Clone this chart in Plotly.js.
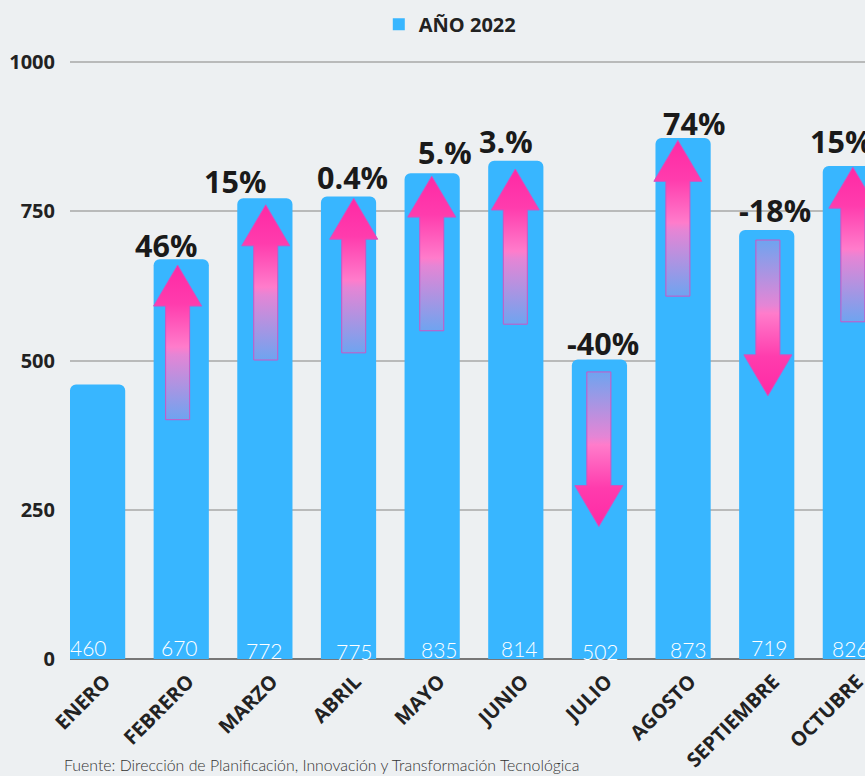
<!DOCTYPE html>
<html><head><meta charset="utf-8">
<script src="https://cdn.plot.ly/plotly-3.0.1.min.js"></script>
<style>html,body{margin:0;padding:0;background:#edf0f2;overflow:hidden}</style>
</head><body><div id="chart" style="width:865px;height:776px"></div>
<script>
const months = ["ENERO","FEBRERO","MARZO","ABRIL","MAYO","JUNIO","JULIO","AGOSTO","SEPTIEMBRE","OCTUBRE"];
const values = [460,670,772,775,814,835,502,873,719,826];
const valueLabels = ["460","670","772","775","835","814","502","873","719","826"];
const changeLabels = ["","46%","15%","0.4%","5.%","3.%","-40%","74%","-18%","15%"];
const arrowTail = [null,401,501,513,550,561,481,608,702,565];
const arrowTip  = [null,660,761,772,809,821,222,869,441,824];

const arrowCenter = [null,0.957,2.01,3.062,3.995,4.994,5.993,6.938,8.014,9.03];
const labelNudge = [[-9,0],[-2,0],[0,-3],[6,-4],[7,-2],[4,-1],[1,-4],[5,-2],[3,0],[0,-1]];
const changeNudge = [[0,0],[-15,0],[-30,0],[4,0],[13,0],[-10,0],[4,0],[11,0],[8,0],[-9,0]];
const changeGap = [0,-2,1,3,5,4,0,-1,4,9];

const HEAD = 0.574, SHAFT = 0.287, HEADLEN = 68.6;
const down = [[0,'#ff29a4'],[0.25,'#ff3cad'],[0.53,'#ff7ccb'],[0.58,'#e585d5'],[1,'#6ea4f0']];
const up = [[0,'#6ea4f0'],[0.42,'#e585d5'],[0.47,'#ff7ccb'],[0.75,'#ff3cad'],[1,'#ff29a4']];

const traces = [{
  type:'bar', x:months.map((_,i)=>i), y:values, width:0.66,
  marker:{color:'#38b6ff', cornerradius:6}, hoverinfo:'skip', showlegend:false
},{
  type:'bar', x:[0], y:[0], name:'AÑO 2022', width:0.66,
  marker:{color:'#38b6ff'}, hoverinfo:'skip', showlegend:true
}];
months.forEach((m,i)=>{
  if(arrowTail[i]===null) return;
  const c=arrowCenter[i], t=arrowTail[i], p=arrowTip[i], dir=p>t?1:-1, b=p-dir*HEADLEN;
  traces.push({
    type:'scatter', mode:'lines', showlegend:false, hoverinfo:'skip',
    x:[c-SHAFT/2,c-SHAFT/2,c-HEAD/2,c,c+HEAD/2,c+SHAFT/2,c+SHAFT/2,c-SHAFT/2],
    y:[t,b,b,p,b,b,t,t],
    fill:'toself', line:{color:'#cc55c4',width:1},
    fillgradient:{type:'vertical', colorscale: dir>0?up:down}
  });
});

const ann = [];
months.forEach((m,i)=>{
  ann.push({x:i,y:0,xref:'x',yref:'y',text:valueLabels[i],showarrow:false,yanchor:'bottom',
    xshift:labelNudge[i][0],yshift:-3+labelNudge[i][1],
    font:{family:'Lato, "Open Sans", sans-serif',size:21,color:'#ffffff',weight:300}});
  if(changeLabels[i]) ann.push({x:i,y:values[i],xref:'x',yref:'y',text:changeLabels[i],showarrow:false,yanchor:'bottom',
    xshift:changeNudge[i][0],yshift:changeGap[i]-7,
    font:{family:'"Open Sans", sans-serif',size:30.5,color:'#1a1a1a',weight:700}});
});
ann.push({xref:'paper',yref:'paper',x:-0.0105,y:-0.1765,xanchor:'left',yanchor:'middle',showarrow:false,
  text:'Fuente: Dirección de Planificación, Innovación y Transformación Tecnológica',
  font:{family:'Lato, sans-serif',size:15.85,color:'#333333',weight:300}});

Plotly.newPlot('chart',traces,{
  width:865,height:776,paper_bgcolor:'#edf0f2',plot_bgcolor:'#edf0f2',
  margin:{l:70,r:0,t:61,b:117,autoexpand:false},
  showlegend:true,barmode:'overlay',
  legend:{orientation:'h',x:0.52,xanchor:'center',xref:'container',y:0.994,yref:'container',yanchor:'top',
    font:{family:'"Open Sans", sans-serif',size:20,color:'#222222',weight:700},itemclick:false},
  xaxis:{range:[-0.33,9.175],tickmode:'array',tickvals:months.map((_,i)=>i),ticktext:months,
    tickangle:-45,showgrid:false,zeroline:false,showline:false,ticks:'',automargin:false,
    ticklabelshift:7,ticklabelstandoff:6,ticklabeloverflow:'allow',
    tickfont:{family:'"Open Sans", sans-serif',size:20,color:'#222222',weight:700}},
  yaxis:{range:[0,1002],tickvals:[0,250,500,750,1000],showgrid:true,gridcolor:'#b9baba',gridwidth:2,
    zeroline:true,zerolinecolor:'#777777',zerolinewidth:2,showline:false,ticks:'',automargin:false,ticklabelstandoff:14,
    tickfont:{family:'"Open Sans", sans-serif',size:20,color:'#222222',weight:700}},
  annotations:ann
},{displayModeBar:false,staticPlot:true});
</script></body></html>
